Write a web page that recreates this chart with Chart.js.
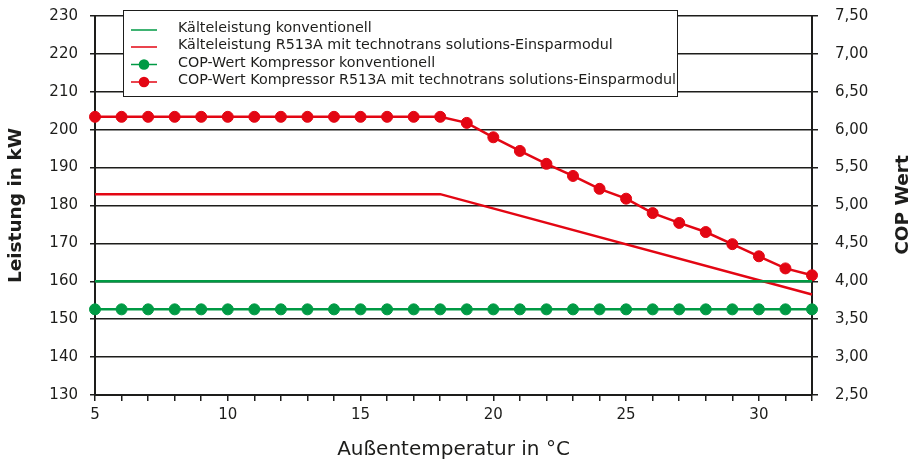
<!DOCTYPE html>
<html>
<head>
<meta charset="utf-8">
<script src="https://cdn.jsdelivr.net/npm/chart.js@4.4.1/dist/chart.umd.min.js"></script>
<style>
html,body{margin:0;padding:0;background:#fff;}
#wrap{width:913px;height:462px;position:relative;}
</style>
</head>
<body>
<div id="wrap"><canvas id="c" width="913" height="462"></canvas></div>
<script>
// ---- data ----
const temperatures = [5,6,7,8,9,10,11,12,13,14,15,16,17,18,19,20,21,22,23,24,25,26,27,28,29,30,31,32];
const copConventional = [3.63,3.63,3.63,3.63,3.63,3.63,3.63,3.63,3.63,3.63,3.63,3.63,3.63,3.63,3.63,3.63,3.63,3.63,3.63,3.63,3.63,3.63,3.63,3.63,3.63,3.63,3.63,3.63];
const copR513A = [6.17,6.17,6.17,6.17,6.17,6.17,6.17,6.17,6.17,6.17,6.17,6.17,6.17,6.17,6.09,5.90,5.72,5.55,5.39,5.22,5.09,4.90,4.77,4.65,4.49,4.33,4.17,4.08];
const capacityConvTemps = [5, 32];
const capacityConv = [160, 160];
const capacityR513ATemps = [5, 18, 32];
const capacityR513A = [183, 183, 156.5];
const xLabelledTicks = [5, 10, 15, 20, 25, 30];
const leftTickLabels = ['130','140','150','160','170','180','190','200','210','220','230'];
const rightTickLabels = ['2,50','3,00','3,50','4,00','4,50','5,00','5,50','6,00','6,50','7,00','7,50'];
const seriesLabels = [
  'Kälteleistung konventionell',
  'Kälteleistung R513A mit technotrans solutions-Einsparmodul',
  'COP-Wert Kompressor konventionell',
  'COP-Wert Kompressor R513A mit technotrans solutions-Einsparmodul'
];
const leftTitle = 'Leistung in kW';
const rightTitle = 'COP Wert';
const xTitle = 'Außentemperatur in °C';

// ---- styling ----
const GREEN = '#009a44';
const RED = '#e30613';
const INK = '#1d1d1b';
const FONT = "'DejaVu Sans', sans-serif";

const toXY = (xs, ys) => xs.map((x, i) => ({x: x, y: ys[i]}));

const legendBox = {
  id: 'legendBox',
  afterDraw(chart) {
    const ctx = chart.ctx;
    const x0 = 123, y0 = 10, w = 554, h = 86;
    ctx.save();
    ctx.fillStyle = '#fff';
    ctx.fillRect(x0, y0, w, h);
    ctx.strokeStyle = INK;
    ctx.lineWidth = 1;
    ctx.strokeRect(x0 + 0.5, y0 + 0.5, w, h);
    const rows = [29.5, 46.5, 64, 81.5];
    chart.data.datasets.forEach((ds, i) => {
      const y = rows[i];
      ctx.strokeStyle = ds.borderColor;
      ctx.lineWidth = 1.5;
      ctx.beginPath();
      ctx.moveTo(131, y + 0.5);
      ctx.lineTo(157, y + 0.5);
      ctx.stroke();
      if (ds.pointRadius > 0) {
        ctx.fillStyle = ds.pointBackgroundColor;
        ctx.beginPath();
        ctx.arc(144, y + 0.5, 5.3, 0, Math.PI * 2);
        ctx.fill();
      }
      ctx.fillStyle = INK;
      ctx.font = '14.3px ' + FONT;
      ctx.textAlign = 'left';
      ctx.textBaseline = 'middle';
      ctx.fillText(ds.label, 178, y - 1);
    });
    // right axis title (reads bottom-to-top like the left one)
    ctx.translate(903, 205);
    ctx.rotate(-Math.PI / 2);
    ctx.font = 'bold 18.5px ' + FONT;
    ctx.textAlign = 'center';
    ctx.textBaseline = 'middle';
    ctx.fillStyle = INK;
    ctx.fillText(rightTitle, 0, 0);
    ctx.restore();
  }
};

new Chart(document.getElementById('c'), {
  type: 'line',
  data: {
    datasets: [
      {label: seriesLabels[0], data: toXY(capacityConvTemps, capacityConv), yAxisID: 'y',
       borderColor: GREEN, backgroundColor: GREEN, borderWidth: 2.5, pointRadius: 0, clip: false},
      {label: seriesLabels[1], data: toXY(capacityR513ATemps, capacityR513A), yAxisID: 'y',
       borderColor: RED, backgroundColor: RED, borderWidth: 2.5, pointRadius: 0, clip: false},
      {label: seriesLabels[2], data: toXY(temperatures, copConventional), yAxisID: 'y2',
       borderColor: GREEN, backgroundColor: GREEN, pointBackgroundColor: GREEN, pointBorderColor: GREEN,
       borderWidth: 2.5, pointRadius: 5.5, pointBorderWidth: 1, clip: false},
      {label: seriesLabels[3], data: toXY(temperatures, copR513A), yAxisID: 'y2',
       borderColor: RED, backgroundColor: RED, pointBackgroundColor: RED, pointBorderColor: RED,
       borderWidth: 2.5, pointRadius: 5.5, pointBorderWidth: 1, clip: false}
    ]
  },
  options: {
    responsive: false,
    animation: false,
    layout: {padding: {top: 16, left: 0, right: 0, bottom: 0}},
    plugins: {legend: {display: false}, tooltip: {enabled: false}},
    elements: {line: {tension: 0}},
    scales: {
      x: {
        type: 'linear', position: 'bottom', min: 5, max: 32,
        afterFit: (s) => { s.height = 67; s.paddingLeft = 0; s.paddingRight = 0; },
        ticks: {
          stepSize: 1, autoSkip: false, maxRotation: 0, padding: 5,
          color: INK, font: {family: FONT, size: 15},
          callback: (v) => xLabelledTicks.includes(v) ? String(v) : ''
        },
        grid: {drawOnChartArea: false, drawTicks: true, tickLength: 6, color: INK, lineWidth: 1.5},
        border: {display: true, color: INK, width: 2},
        title: {display: true, text: xTitle, color: INK, font: {family: FONT, size: 20}, padding: {top: 0, bottom: 0}}
      },
      y: {
        type: 'linear', position: 'left', min: 130, max: 230,
        afterFit: (s) => { s.width = 95; s.paddingTop = 0; s.paddingBottom = 0; },
        ticks: {
          stepSize: 10, padding: 12, color: INK, font: {family: FONT, size: 15},
          callback: (v, i) => leftTickLabels[i]
        },
        grid: {color: INK, lineWidth: 1.5, tickLength: 5},
        border: {display: true, color: INK, width: 2},
        title: {display: true, text: leftTitle, color: INK, font: {family: FONT, size: 18.5, weight: 'bold'}, padding: {top: 5, bottom: 0}}
      },
      y2: {
        type: 'linear', position: 'right', min: 2.5, max: 7.5,
        afterFit: (s) => { s.width = 101; s.paddingTop = 0; s.paddingBottom = 0; },
        ticks: {
          stepSize: 0.5, padding: 17, color: INK, font: {family: FONT, size: 15},
          callback: (v, i) => rightTickLabels[i]
        },
        grid: {drawOnChartArea: false, color: INK, lineWidth: 1.5, tickLength: 6},
        border: {display: true, color: INK, width: 2}
      }
    }
  },
  plugins: [legendBox]
});
</script>
</body>
</html>
